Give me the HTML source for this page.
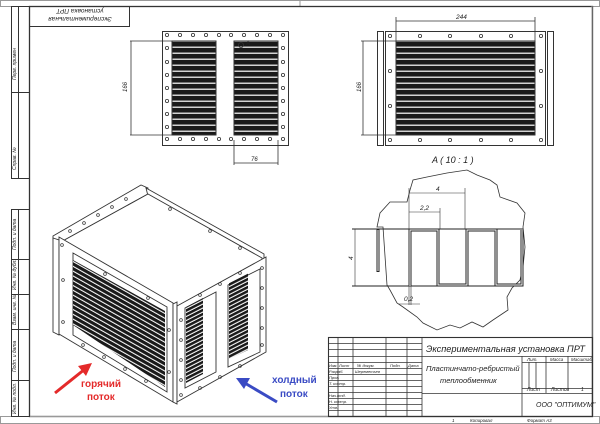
<!DOCTYPE html>
<html><head><meta charset="utf-8"><style>
html,body{margin:0;padding:0;background:#fff;}
svg{display:block;font-family:"Liberation Sans",sans-serif;}
.t{font-style:italic;fill:#222;}
</style></head><body>
<svg width="600" height="424" viewBox="0 0 600 424" xmlns="http://www.w3.org/2000/svg">
<defs>
<pattern id="fh" width="6" height="6" patternUnits="userSpaceOnUse"><rect width="6" height="6" fill="#1a1a1a"/><rect y="4.6" width="6" height="1.2" fill="#fff"/></pattern>
<pattern id="fs" width="6" height="4.8" patternUnits="userSpaceOnUse" patternTransform="skewY(29.5)"><rect width="6" height="4.8" fill="#1a1a1a"/><rect y="3.6" width="6" height="1.2" fill="#fff"/></pattern>
<pattern id="fr" width="6" height="4" patternUnits="userSpaceOnUse" patternTransform="skewY(-27)"><rect width="6" height="4" fill="#1a1a1a"/><rect y="2.8" width="6" height="1.2" fill="#fff"/></pattern>
</defs>
<g fill="none" stroke="#333" stroke-width="1">
<rect x="0.5" y="0.5" width="599" height="6" stroke="#999"/>
<line x1="300" y1="0" x2="300" y2="6" stroke="#999"/>
<rect x="29.5" y="6.5" width="563" height="410" stroke-width="1.3"/>
<rect x="0.5" y="416.5" width="599" height="7" stroke="#999"/>
<line x1="592" y1="6" x2="592" y2="416" stroke="#999"/>
<rect x="11.5" y="6.5" width="18" height="172"/>
<line x1="18.5" y1="6" x2="18.5" y2="178"/>
<line x1="11" y1="92.5" x2="29" y2="92.5"/>
<rect x="11.5" y="209.5" width="18" height="207"/>
<line x1="18.5" y1="209" x2="18.5" y2="416"/>
<line x1="11" y1="259.5" x2="29" y2="259.5"/><line x1="11" y1="294.5" x2="29" y2="294.5"/>
<line x1="11" y1="329.5" x2="29" y2="329.5"/><line x1="11" y1="380.5" x2="29" y2="380.5"/>
<rect x="29.5" y="6.5" width="100" height="20"/>
</g>
<g class="t" font-size="5">
<text transform="translate(16,80) rotate(-90)">Перв. примен</text>
<text transform="translate(16,170) rotate(-90)">Справ. №</text>
<text transform="translate(16,250) rotate(-90)">Подп. и дата</text>
<text transform="translate(16,290) rotate(-90)">Инв. № дубл.</text>
<text transform="translate(16,325) rotate(-90)">Взам. инв. №</text>
<text transform="translate(16,372) rotate(-90)">Подп. и дата</text>
<text transform="translate(16,414) rotate(-90)">Инв. № подл.</text>
</g>
<g class="t" font-size="6.5" transform="translate(80,16) rotate(180)" text-anchor="middle">
<text y="-1">Экспериментальная</text><text y="7">установка ПРТ</text>
</g>

<rect x="162.5" y="31.5" width="126" height="114" fill="#fff" stroke="#333"/>
<rect x="172" y="41" width="44" height="94" fill="url(#fh)" stroke="#333"/>
<rect x="234" y="41" width="44" height="94" fill="url(#fh)" stroke="#333"/>
<g fill="none" stroke="#333" stroke-width="0.8">
<circle cx="167" cy="35" r="1.6"/><circle cx="180" cy="35" r="1.6"/><circle cx="193" cy="35" r="1.6"/><circle cx="206" cy="35" r="1.6"/><circle cx="219" cy="35" r="1.6"/><circle cx="231" cy="35" r="1.6"/><circle cx="244" cy="35" r="1.6"/><circle cx="257" cy="35" r="1.6"/><circle cx="270" cy="35" r="1.6"/><circle cx="283" cy="35" r="1.6"/>
<circle cx="167" cy="139" r="1.6"/><circle cx="180" cy="139" r="1.6"/><circle cx="193" cy="139" r="1.6"/><circle cx="206" cy="139" r="1.6"/><circle cx="219" cy="139" r="1.6"/><circle cx="231" cy="139" r="1.6"/><circle cx="244" cy="139" r="1.6"/><circle cx="257" cy="139" r="1.6"/><circle cx="270" cy="139" r="1.6"/><circle cx="283" cy="139" r="1.6"/>
<circle cx="167" cy="48" r="1.6"/><circle cx="167" cy="62" r="1.6"/><circle cx="167" cy="75" r="1.6"/><circle cx="167" cy="88" r="1.6"/><circle cx="167" cy="101" r="1.6"/><circle cx="167" cy="114" r="1.6"/><circle cx="167" cy="127" r="1.6"/>
<circle cx="283" cy="48" r="1.6"/><circle cx="283" cy="62" r="1.6"/><circle cx="283" cy="75" r="1.6"/><circle cx="283" cy="88" r="1.6"/><circle cx="283" cy="101" r="1.6"/><circle cx="283" cy="114" r="1.6"/><circle cx="283" cy="127" r="1.6"/>
<circle cx="241" cy="45" r="2.5"/>
<line x1="130" y1="41" x2="172" y2="41"/><line x1="130" y1="135" x2="172" y2="135"/>
<line x1="131" y1="41" x2="131" y2="135"/>
<line x1="234" y1="140" x2="234" y2="165"/><line x1="278" y1="140" x2="278" y2="165"/>
<line x1="234" y1="163" x2="278" y2="163"/>
</g>
<text class="t" font-size="6" x="246" y="45">A</text>
<text class="t" font-size="6" transform="translate(127,92) rotate(-90)">166</text>
<text class="t" font-size="6" x="251" y="161">76</text>

<rect x="377.5" y="31.5" width="6" height="114" fill="#fff" stroke="#333"/>
<rect x="547.5" y="31.5" width="6" height="114" fill="#fff" stroke="#333"/>
<rect x="385.5" y="31.5" width="160" height="114" fill="#fff" stroke="#333"/>
<rect x="396" y="41" width="139" height="94" fill="url(#fh)" stroke="#333"/>
<g fill="none" stroke="#333" stroke-width="0.8">
<circle cx="390" cy="36" r="1.6"/><circle cx="420" cy="36" r="1.6"/><circle cx="450" cy="36" r="1.6"/><circle cx="481" cy="36" r="1.6"/><circle cx="511" cy="36" r="1.6"/><circle cx="541" cy="36" r="1.6"/>
<circle cx="390" cy="140" r="1.6"/><circle cx="420" cy="140" r="1.6"/><circle cx="450" cy="140" r="1.6"/><circle cx="481" cy="140" r="1.6"/><circle cx="511" cy="140" r="1.6"/><circle cx="541" cy="140" r="1.6"/>
<circle cx="390" cy="71" r="1.6"/><circle cx="390" cy="106" r="1.6"/><circle cx="541" cy="71" r="1.6"/><circle cx="541" cy="106" r="1.6"/>
<line x1="396" y1="17" x2="396" y2="41"/><line x1="535" y1="17" x2="535" y2="41"/>
<line x1="396" y1="21" x2="535" y2="21"/>
<line x1="361" y1="41" x2="396" y2="41"/><line x1="361" y1="135" x2="396" y2="135"/>
<line x1="363" y1="41" x2="363" y2="135"/>
</g>
<text class="t" font-size="6.5" x="456" y="19">244</text>
<text class="t" font-size="6" transform="translate(361,92) rotate(-90)">166</text>
<text class="t" font-size="9" x="432" y="163">A ( 10 : 1 )</text>

<polygon points="410,190 413,180 427,177 447,173 467,170 477,175 490,180 497,185 500,197 517,203 525,213 523,227 525,247 523,267 520,280 512,288 507,297 508,310 493,320 483,327 472,322 460,328 450,325 437,330 423,323 417,317 403,307 397,303 390,290 387,285 383,227 377,227 380,213 390,202 407,202" fill="none" stroke="#333" stroke-width="0.8"/>
<g fill="none" stroke="#222" stroke-width="1">
<line x1="352" y1="229" x2="523" y2="229"/>
<line x1="352" y1="286" x2="523" y2="286"/>
</g>
<path d="M410,286 V230 H438 V285 H467 V230 H496 V285 H522 V230" fill="none" stroke="#222" stroke-width="3"/>
<path d="M410,286 V230 H438 V285 H467 V230 H496 V285 H522 V230" fill="none" stroke="#fff" stroke-width="1"/>
<path d="M378,229 V272" fill="none" stroke="#222" stroke-width="3"/>
<path d="M378,230 V271" fill="none" stroke="#fff" stroke-width="1"/>
<g fill="none" stroke="#333" stroke-width="0.6">
<line x1="409" y1="188" x2="409" y2="305"/><line x1="465" y1="188" x2="465" y2="229"/><line x1="440" y1="208" x2="440" y2="229"/>
<line x1="409" y1="193" x2="465" y2="193"/><line x1="409" y1="212" x2="440" y2="212"/>
<line x1="355" y1="229" x2="355" y2="286"/>
<line x1="399" y1="304" x2="420" y2="304"/><line x1="411" y1="286" x2="411" y2="305"/>
</g>
<text class="t" font-size="6.5" x="436" y="191">4</text>
<text class="t" font-size="6.5" x="420" y="210">2,2</text>
<text class="t" font-size="6.5" transform="translate(353,260) rotate(-90)">4</text>
<text class="t" font-size="6.5" x="404" y="301">0,2</text>

<g stroke="#333" stroke-width="0.9" fill="#fff">
<polygon points="53,236 141,185 148,188 148,194 59,243 53,240"/>
<polygon points="146,188 264,254 264,262 148,196"/>
<polygon points="148,194 262,258 262,266 176,314 59,243"/>
<polygon points="53,238 59,240 59,335 53,332"/>
<polygon points="59,237 173,303 173,402 59,334"/>
<polygon points="73,253 167,307 167,392 73,335"/>
<polygon points="73,260 165,311 165,387 73,325" fill="url(#fs)" stroke="none"/>
<polygon points="173,304 177,302 177,404 173,402"/>
<polygon points="177,306 266,257 266,352 177,402"/>
<polygon points="185,308 216,292 216,372 185,388"/>
<polygon points="186,307 203,298 203,374 186,383" fill="url(#fr)" stroke="none"/>
<polygon points="228,285 260,269 260,352 228,367"/>
<polygon points="229,283 248,273 248,350 229,359" fill="url(#fr)" stroke="none"/>
</g>
<g fill="none" stroke="#333" stroke-width="0.7">
<circle cx="62" cy="245" r="1.4"/><circle cx="63" cy="280" r="1.4"/><circle cx="63" cy="322" r="1.4"/>
<circle cx="105" cy="274" r="1.4"/><circle cx="148" cy="298" r="1.4"/><circle cx="169" cy="330" r="1.4"/><circle cx="169" cy="372" r="1.4"/>
<circle cx="83" cy="345" r="1.4"/><circle cx="104" cy="357" r="1.4"/><circle cx="125" cy="369" r="1.4"/><circle cx="146" cy="381" r="1.4"/>
<circle cx="70" cy="231" r="1.4"/><circle cx="84" cy="223" r="1.4"/><circle cx="98" cy="215" r="1.4"/><circle cx="112" cy="207" r="1.4"/><circle cx="126" cy="199" r="1.4"/>
<circle cx="170" cy="209" r="1.4"/><circle cx="210" cy="231" r="1.4"/><circle cx="240" cy="248" r="1.4"/>
<circle cx="181" cy="320" r="1.4"/><circle cx="181" cy="340" r="1.4"/><circle cx="181" cy="360" r="1.4"/><circle cx="181" cy="380" r="1.4"/><circle cx="181" cy="395" r="1.4"/>
<circle cx="262" cy="268" r="1.4"/><circle cx="262" cy="288" r="1.4"/><circle cx="262" cy="308" r="1.4"/><circle cx="262" cy="328" r="1.4"/><circle cx="262" cy="345" r="1.4"/>
<circle cx="200" cy="295" r="1.4"/><circle cx="220" cy="284" r="1.4"/><circle cx="240" cy="273" r="1.4"/>
<circle cx="200" cy="388" r="1.4"/><circle cx="220" cy="377" r="1.4"/><circle cx="240" cy="366" r="1.4"/>
</g>
<g stroke-width="3" fill="none">
<line x1="55" y1="393" x2="85" y2="369" stroke="#e42a2a"/>
<line x1="277" y1="402" x2="243" y2="382" stroke="#3a4bc4"/>
</g>
<polygon points="92,363 78,366 86,376" fill="#e42a2a"/>
<polygon points="236,378 250,378 244,389" fill="#3a4bc4"/>
<g font-weight="bold" font-size="10">
<text x="81" y="387" fill="#e42a2a">горячий</text><text x="87" y="400" fill="#e42a2a">поток</text>
<text x="272" y="383" fill="#3a4bc4">холдный</text><text x="280" y="397" fill="#3a4bc4">поток</text>
</g>

<g fill="none" stroke="#333" stroke-width="0.8">
<rect x="328.5" y="337.5" width="264" height="79" stroke-width="1.1"/>
<line x1="422" y1="337" x2="422" y2="416"/>
<line x1="422" y1="356.5" x2="592" y2="356.5"/>
<line x1="422" y1="393.5" x2="592" y2="393.5"/>
<line x1="522" y1="356" x2="522" y2="416"/>
<line x1="522" y1="362.5" x2="592" y2="362.5"/>
<line x1="522" y1="388.5" x2="592" y2="388.5"/>
<line x1="546" y1="356" x2="546" y2="393"/><line x1="568" y1="356" x2="568" y2="388"/>
<line x1="529" y1="362" x2="529" y2="388"/><line x1="536" y1="362" x2="536" y2="388"/>
<line x1="338" y1="337" x2="338" y2="416"/><line x1="353" y1="337" x2="353" y2="416"/>
<line x1="386" y1="337" x2="386" y2="416"/><line x1="407" y1="337" x2="407" y2="416"/>
<line x1="328" y1="343.5" x2="422" y2="343.5"/><line x1="328" y1="349.5" x2="422" y2="349.5"/>
<line x1="328" y1="356.5" x2="422" y2="356.5"/><line x1="328" y1="362.5" x2="422" y2="362.5"/>
<line x1="328" y1="368.5" x2="422" y2="368.5"/><line x1="328" y1="374.5" x2="422" y2="374.5"/>
<line x1="328" y1="380.5" x2="422" y2="380.5"/><line x1="328" y1="386.5" x2="422" y2="386.5"/>
<line x1="328" y1="392.5" x2="422" y2="392.5"/><line x1="328" y1="398.5" x2="422" y2="398.5"/>
<line x1="328" y1="404.5" x2="422" y2="404.5"/><line x1="328" y1="410.5" x2="422" y2="410.5"/>
</g>
<g class="t">
<text x="426" y="352" font-size="9.2">Экспериментальная установка ПРТ</text>
<text x="426" y="371" font-size="7.5">Пластинчато-ребристый</text>
<text x="440" y="383" font-size="7.5">теплообменник</text>
<text x="527" y="391" font-size="5">Лист</text><text x="551" y="391" font-size="5">Листов</text><text x="581" y="391" font-size="5">1</text>
<text x="527" y="361" font-size="4.5">Лит.</text><text x="550" y="361" font-size="4.5">Масса</text><text x="571" y="361" font-size="4.5">Масштаб</text>
<text x="536" y="407" font-size="7">ООО "ОПТИМУМ"</text>
<text x="329" y="367" font-size="4">Изм.</text><text x="339" y="367" font-size="4">Лист</text><text x="357" y="367" font-size="4">№ докум.</text><text x="390" y="367" font-size="4">Подп.</text><text x="408" y="367" font-size="4">Дата</text>
<text x="329" y="373" font-size="4">Разраб.</text><text x="355" y="373" font-size="4">Шереметьев</text>
<text x="329" y="379" font-size="4">Пров.</text><text x="329" y="385" font-size="4">Т. контр.</text>
<text x="329" y="397" font-size="4">Нач.отд.</text><text x="329" y="403" font-size="4">Н. контр.</text><text x="329" y="409" font-size="4">Утв.</text>
<text x="452" y="422" font-size="4.5">1</text><text x="470" y="422" font-size="4.5">Копировал</text><text x="527" y="422" font-size="4.5">Формат А3</text>
</g>
</svg>
</body></html>
